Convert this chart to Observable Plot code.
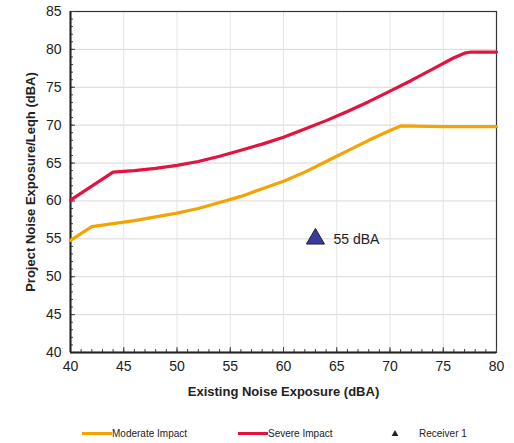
<!DOCTYPE html>
<html>
<head>
<meta charset="utf-8">
<script src="https://cdn.jsdelivr.net/npm/d3@7"></script>
<script src="https://cdn.jsdelivr.net/npm/@observablehq/plot@0.6"></script>
<style>
  body { margin: 0; background: #fff; font-family: "Liberation Sans", Arial, sans-serif; }
  #wrap { position: relative; width: 514px; height: 443px; }
  #legend { position: absolute; left: 0; top: 426px; width: 514px; height: 14px; font-size: 10px; color: #222; }
  .item { position: absolute; top: 0; display: flex; align-items: center; height: 14px; }
  .swatch { width: 30px; height: 3px; }
</style>
</head>
<body>
<div id="wrap">
  <div id="chart"></div>
  <div id="legend"></div>
</div>
<script>
// Existing noise exposure (dBA) vs. project noise exposure thresholds (dBA)
const moderateX = [40, 42, 44, 46, 48, 50, 52, 54, 56, 58, 60, 62, 64, 66, 68, 70, 71, 75, 80];
const moderateY = [54.8, 56.6, 57.0, 57.4, 57.9, 58.4, 59.0, 59.8, 60.6, 61.6, 62.6, 63.8, 65.2, 66.6, 68.0, 69.3, 69.9, 69.8, 69.8];
const severeX = [40, 44, 46, 48, 50, 52, 54, 56, 58, 60, 62, 64, 66, 68, 70, 72, 74, 76, 77, 77.6, 80];
const severeY = [60.1, 63.8, 64.0, 64.3, 64.7, 65.2, 65.9, 66.7, 67.5, 68.4, 69.5, 70.6, 71.8, 73.1, 74.5, 75.9, 77.4, 78.9, 79.5, 79.65, 79.65];
const receiverX = [63];
const receiverY = [55];
const receiverLabel = ["55 dBA"];
const xTicks = [40, 45, 50, 55, 60, 65, 70, 75, 80];
const yTicks = [40, 45, 50, 55, 60, 65, 70, 75, 80, 85];
const seriesNames = ["Moderate Impact", "Severe Impact", "Receiver 1"];
const colors = { moderate: "#f5a300", severe: "#e3123f", receiver: "#3b3b9e" };

const moderate = moderateX.map((x, i) => ({ x, y: moderateY[i] }));
const severe = severeX.map((x, i) => ({ x, y: severeY[i] }));
const receiver = receiverX.map((x, i) => ({ x, y: receiverY[i], label: receiverLabel[i] }));

const chart = Plot.plot({
  width: 514,
  height: 405,
  marginLeft: 70,
  marginRight: 18,
  marginTop: 11,
  marginBottom: 53,
  style: { fontFamily: "Liberation Sans, Arial, sans-serif", fontSize: "14px", color: "#222", background: "#fff" },
  x: { domain: [40, 80] },
  y: { domain: [40, 85] },
  marks: [
    Plot.gridY(yTicks, { stroke: "#d8d8d8", strokeOpacity: 1 }),
    Plot.gridX(xTicks, { stroke: "#e4e4e4", strokeOpacity: 1 }),
    Plot.frame({ stroke: "#333", strokeWidth: 1.2 }),
    Plot.axisX(d3.range(40, 81, 1), { tickSize: -3, tickFormat: () => "", label: null, stroke: "#444" }),
    Plot.axisY(d3.range(40, 86, 1), { tickSize: -3, tickFormat: () => "", label: null, stroke: "#444" }),
    Plot.axisX(xTicks, { tickSize: -5, tickPadding: 14, label: null, fontSize: 14, stroke: "#444" }),
    Plot.axisY(yTicks, { tickSize: -5, tickPadding: 14, label: null, fontSize: 14, stroke: "#444" }),
    Plot.ruleX([40], { stroke: "#222", strokeWidth: 2 }),
    Plot.ruleY([40], { stroke: "#222", strokeWidth: 2 }),
    Plot.line(moderate, { x: "x", y: "y", stroke: colors.moderate, strokeWidth: 3.2, strokeLinejoin: "round" }),
    Plot.line(severe, { x: "x", y: "y", stroke: colors.severe, strokeWidth: 3.2, strokeLinejoin: "round" }),
    Plot.dot(receiver, { x: "x", y: "y", symbol: "triangle", r: 6.7, fill: colors.receiver, stroke: "#222", strokeWidth: 1 }),
    Plot.text(receiver, { x: "x", y: "y", text: "label", dx: 18, dy: 1, textAnchor: "start", fontSize: 14, fill: "#222" }),
    Plot.text(["Existing Noise Exposure (dBA)"], { frameAnchor: "bottom", dy: 43, fontSize: 13, fontWeight: "bold", fill: "#222" }),
    Plot.text(["Project Noise Exposure/Leqh (dBA)"], { frameAnchor: "left", dx: -40, rotate: -90, textAnchor: "middle", fontSize: 13, fontWeight: "bold", fill: "#222" })
  ]
});
document.getElementById("chart").appendChild(chart);

// Legend
const legend = document.getElementById("legend");
const legendItems = [
  { name: seriesNames[0], left: 82, type: "line", color: colors.moderate },
  { name: seriesNames[1], left: 238, type: "line", color: colors.severe },
  { name: seriesNames[2], left: 391, type: "tri", color: "#222" }
];
for (const it of legendItems) {
  const el = document.createElement("div");
  el.className = "item";
  el.style.left = it.left + "px";
  if (it.type === "line") {
    const sw = document.createElement("div");
    sw.className = "swatch";
    sw.style.background = it.color;
    el.appendChild(sw);
  } else {
    const tri = document.createElementNS("http://www.w3.org/2000/svg", "svg");
    tri.setAttribute("width", "8");
    tri.setAttribute("height", "8");
    tri.style.marginRight = "20px";
    const p = document.createElementNS("http://www.w3.org/2000/svg", "path");
    p.setAttribute("d", d3.symbol(d3.symbolTriangle, 20)());
    p.setAttribute("transform", "translate(4,5)");
    p.setAttribute("fill", it.color);
    tri.appendChild(p);
    el.appendChild(tri);
  }
  const t = document.createElement("span");
  t.textContent = it.name;
  el.appendChild(t);
  legend.appendChild(el);
}
</script>
</body>
</html>
